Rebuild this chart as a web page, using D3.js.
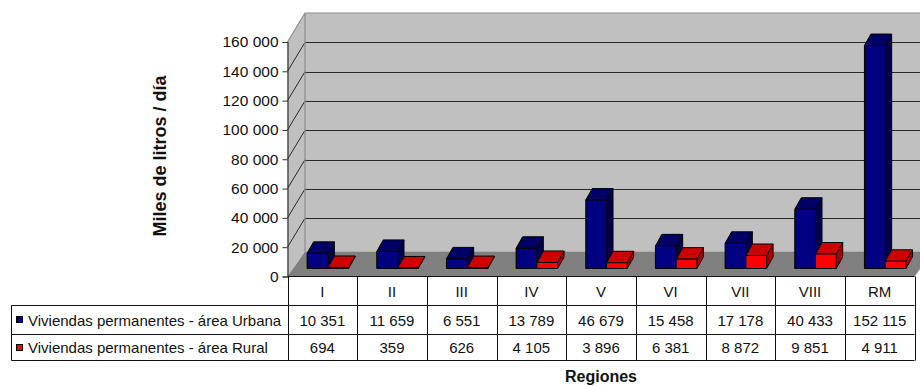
<!DOCTYPE html>
<html>
<head>
<meta charset="utf-8">
<script src="https://cdn.jsdelivr.net/npm/d3@7"></script>
<style>
  html, body { margin: 0; padding: 0; background: #fff; }
  svg { display: block; font-family: "Liberation Sans", Arial, sans-serif; }
</style>
</head>
<body>
<svg id="chart" width="920" height="386"></svg>
<script>
// Consumo de agua por región (miles de litros / día)
const regions = ["I", "II", "III", "IV", "V", "VI", "VII", "VIII", "RM"];
const urbana  = [10351, 11659, 6551, 13789, 46679, 15458, 17178, 40433, 152115];
const rural   = [694, 359, 626, 4105, 3896, 6381, 8872, 9851, 4911];
const seriesNames = ["Viviendas permanentes - área Urbana", "Viviendas permanentes - área Rural"];
const yTicks = [0, 20000, 40000, 60000, 80000, 100000, 120000, 140000, 160000];

const palette = [
  { front: "#000080", top: "#000066", side: "#00004a" },
  { front: "#ff0000", top: "#cc0000", side: "#a80000" }
];

const svg = d3.select("#chart");
const fmt = d3.formatLocale({ decimal: ",", thousands: " ", grouping: [3], currency: ["", ""] }).format(",d");

// Plot frame
const left = 287.5, right = 914.5, base = 276.5, topY = 42;
const x = d3.scaleBand().domain(regions).range([left, right]).padding(0);
const y = d3.scaleLinear().domain([0, 160000]).range([base, topY]);
const sub = d3.scaleBand().domain([0, 1]).range([0, x.bandwidth()]).paddingOuter(0.68).paddingInner(0);

// Oblique depth offsets
const wall = { dx: 17.5, dy: -29 };     // side / back wall
const floorOff = { dx: 17.5, dy: -25 }; // floor back edge
const barFront = { dx: 5.5, dy: -8 };   // bar front face from the floor front edge
const barDepth = { dx: 6.5, dy: -11.5 };

const g = svg.append("g");

// Back wall
const bwLeft = left + wall.dx;
g.append("rect")
  .attr("x", bwLeft).attr("y", y(160000) + wall.dy)
  .attr("width", 940 - bwLeft).attr("height", (base + floorOff.dy) - (y(160000) + wall.dy))
  .attr("fill", "#c0c0c0");

// Side wall
g.append("path")
  .attr("d", `M${left},${y(160000)} L${bwLeft},${y(160000) + wall.dy} L${bwLeft},${base + floorOff.dy} L${left},${base} Z`)
  .attr("fill", "#c0c0c0");

// Floor
g.append("path")
  .attr("d", `M${left},${base} L${right},${base} L${right + floorOff.dx},${base + floorOff.dy} L${bwLeft},${base + floorOff.dy} Z`)
  .attr("fill", "#808080");

// Gridlines on the back and side walls
const grid = yTicks.filter(v => v > 0 && v < 160000);
g.selectAll(".gb").data(grid).join("line")
  .attr("x1", bwLeft).attr("x2", 940)
  .attr("y1", d => Math.round(y(d) + wall.dy) + 0.5).attr("y2", d => Math.round(y(d) + wall.dy) + 0.5)
  .attr("stroke", "#2a2a2a").attr("stroke-width", 1.2);
g.selectAll(".gs").data(grid).join("line")
  .attr("x1", left).attr("y1", d => y(d))
  .attr("x2", bwLeft).attr("y2", d => y(d) + wall.dy)
  .attr("stroke", "#2a2a2a").attr("stroke-width", 1);

// Wall edges
g.append("path")
  .attr("d", `M${left},${y(160000)} L${bwLeft},${y(160000) + wall.dy} L940,${y(160000) + wall.dy} M${bwLeft},${y(160000) + wall.dy} L${bwLeft},${base + floorOff.dy}`)
  .attr("fill", "none").attr("stroke", "#8c8c8c").attr("stroke-width", 1.2);
g.append("line")
  .attr("x1", right).attr("y1", base).attr("x2", right + floorOff.dx).attr("y2", base + floorOff.dy)
  .attr("stroke", "#a0a0a0");

// 3D bars
const bars = g.append("g");
regions.forEach((r, i) => {
  [urbana[i], rural[i]].forEach((v, s) => {
    const x0 = x(r) + sub(s) + barFront.dx;
    const x1 = x0 + sub.bandwidth();
    const yb = base + barFront.dy;
    const yt = yb - (base - y(v));
    const c = palette[s];
    const ddx = barDepth.dx, ddy = barDepth.dy;
    const bg = bars.append("g").attr("stroke", "#000").attr("stroke-width", 1).attr("stroke-linejoin", "round");
    bg.append("path") // side face
      .attr("d", `M${x1},${yb} L${x1 + ddx},${yb + ddy} L${x1 + ddx},${yt + ddy} L${x1},${yt} Z`)
      .attr("fill", c.side);
    bg.append("path") // top face
      .attr("d", `M${x0},${yt} L${x0 + ddx},${yt + ddy} L${x1 + ddx},${yt + ddy} L${x1},${yt} Z`)
      .attr("fill", c.top);
    bg.append("rect") // front face
      .attr("x", x0).attr("y", yt).attr("width", x1 - x0).attr("height", yb - yt)
      .attr("fill", c.front);
  });
});

// Value axis
const axis = svg.append("g")
  .attr("transform", `translate(${left},0)`)
  .call(d3.axisLeft(y).tickValues(yTicks).tickFormat(fmt).tickSize(5).tickPadding(4));
axis.select(".domain").attr("stroke", "#333").attr("stroke-width", 1.2);
axis.selectAll(".tick line").attr("stroke", "#333");
axis.selectAll(".tick text").attr("font-size", 15.5).attr("fill", "#111")
  .attr("font-family", "'Liberation Sans', Arial, sans-serif");

// Axis titles
svg.append("text")
  .attr("transform", `translate(166,156) rotate(-90)`)
  .attr("text-anchor", "middle")
  .attr("font-size", 18).attr("font-weight", "bold").attr("fill", "#111")
  .text("Miles de litros / día");

svg.append("text")
  .attr("x", (left + right) / 2).attr("y", 381.5)
  .attr("text-anchor", "middle")
  .attr("font-size", 16).attr("font-weight", "bold").attr("fill", "#111")
  .text("Regiones");

// Data table
const rowY = [276.5, 305.5, 334.5, 360.5];
const legendLeft = 11.5;
const tbl = svg.append("g").attr("stroke", "#111").attr("stroke-width", 1);
tbl.append("line").attr("x1", left).attr("x2", right).attr("y1", rowY[0]).attr("y2", rowY[0]);
[1, 2, 3].forEach(k => {
  tbl.append("line").attr("x1", legendLeft).attr("x2", right).attr("y1", rowY[k]).attr("y2", rowY[k]);
});
tbl.append("line").attr("x1", legendLeft).attr("x2", legendLeft).attr("y1", rowY[1]).attr("y2", rowY[3]);
tbl.selectAll(".vl").data(regions.concat(["end"])).join("line")
  .attr("x1", (d, i) => Math.round(left + i * x.bandwidth()) + 0.5)
  .attr("x2", (d, i) => Math.round(left + i * x.bandwidth()) + 0.5)
  .attr("y1", rowY[0]).attr("y2", rowY[3]);

const txt = svg.append("g").attr("font-size", 15).attr("fill", "#111").attr("text-anchor", "middle");
txt.selectAll(".cat").data(regions).join("text")
  .attr("x", d => x(d) + x.bandwidth() / 2).attr("y", (rowY[0] + rowY[1]) / 2 + 5.5)
  .text(d => d);
[urbana, rural].forEach((vals, s) => {
  txt.selectAll(".v" + s).data(vals).join("text")
    .attr("x", (d, i) => x(regions[i]) + x.bandwidth() / 2)
    .attr("y", (rowY[s + 1] + rowY[s + 2]) / 2 + 5.5)
    .text(d => fmt(d));
  svg.append("rect")
    .attr("x", 16.5).attr("y", Math.round((rowY[s + 1] + rowY[s + 2]) / 2) - 3.5)
    .attr("width", 6).attr("height", 6)
    .attr("fill", palette[s].front).attr("stroke", "#000");
  svg.append("text")
    .attr("x", 28).attr("y", (rowY[s + 1] + rowY[s + 2]) / 2 + 5.5)
    .attr("font-size", 15).attr("fill", "#111")
    .text(seriesNames[s]);
});
</script>
</body>
</html>
